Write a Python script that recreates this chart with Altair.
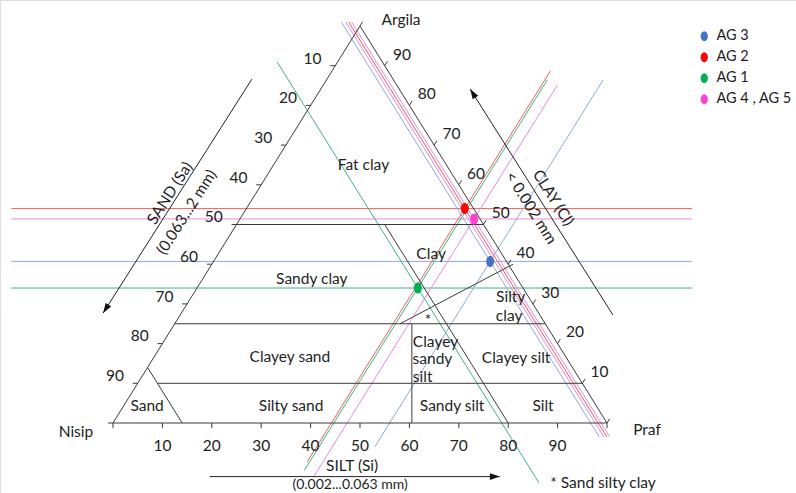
import altair as alt
import pandas as pd

# ---------------- data ----------------
# Soil samples: clay and silt content in percent (sand = 100 - clay - silt)
sample_names = ["AG 3", "AG 2", "AG 1", "AG 4 , AG 5"]
sample_colors = ["#4472c4", "#ff0000", "#00b050", "#ff40d0"]
sample_clay = [40.7, 54.0, 34.0, 51.4]
sample_silt = [56.0, 44.2, 44.7, 47.4]

BLUE, RED, GREEN, PINK = "#8eaadb", "#e4605a", "#3fb27e", "#e48ae4"

# Reading lines through the samples
guide_clay = [54.0, 51.4, 40.7, 34.0]            # constant clay (horizontal)
guide_clay_colors = [RED, PINK, BLUE, GREEN]
guide_clay_span = (-20.6, 117.2)                  # in diagram x units

guide_silt = [44.2, 44.7, 47.4, 56.0]             # constant silt
guide_silt_colors = [RED, GREEN, PINK, BLUE]
guide_silt_span = [(-9.8, 88.7), (-12.0, 86.4), (-13.4, 85.1), (-6.0, 86.4)]

guide_sand = [1.2, 1.8, 2.4, 3.3, 21.3]           # constant sand
guide_sand_colors = [PINK, RED, PINK, BLUE, GREEN]
guide_sand_span = [(-3.5, 101.0)] * 4 + [(-15.0, 91.0)]

# Class boundaries as (clay, silt) end points
boundaries = [
    ((0, 0), (0, 100)), ((0, 100), (100, 0)), ((100, 0), (0, 0)),   # frame
    ((50, 0), (50, 50)),
    ((25, 0), (25, 75)),
    ((10, 4), (10, 90)),
    ((14, 0), (0, 14)),
    ((50, 30), (0, 80)),
    ((25, 45.6), (40, 61)),
    ((25, 48), (0, 60.5)),
]

tick_values = [10, 20, 30, 40, 50, 60, 70, 80, 90]

# Class names: (text, clay, silt)
class_labels = [
    ("Fat clay", 65.0, 18.2), ("Clay", 42.6, 43.1), ("Sandy clay", 36.3, 22.1),
    ("*", 25.9, 50.8), ("Clayey sand", 16.6, 27.5), ("Clayey silt", 16.4, 73.4),
    ("Silty sand", 4.3, 33.9), ("Sand", 4.3, 4.75), ("Sandy silt", 4.3, 66.5),
    ("Silt", 4.3, 84.9),
]
class_labels_left = [
    ("Silty", 31.7, 61.7), ("clay", 27.0, 64.0),
    ("Clayey", 20.4, 50.5), ("sandy", 16.1, 52.6), ("silt", 11.6, 54.9),
]

# Captions outside the triangle: (text, x, y, angle, align, font size)
captions = [
    ("Argila", 58.3, 101.5, 0, "center", 15.5),
    ("Nisip", -7.5, -2.3, 0, "center", 15.5),
    ("Praf", 108.1, -1.8, 0, "center", 15.5),
    ("SAND (Sa)", 11.5, 57.9, 302.5, "center", 15.5),
    ("(0.063...2 mm)", 14.9, 53.1, 302.5, "center", 15.5),
    ("CLAY (Cl)", 89.1, 56.7, 57.7, "center", 15.5),
    ("< 0.002 mm", 84.6, 54.2, 57.7, "center", 15.5),
    ("SILT (Si)", 48.4, -10.9, 0, "center", 15.5),
    ("(0.002...0.063 mm)", 48.0, -15.7, 0, "center", 14),
    ("* Sand silty clay", 88.5, -15.1, 0, "left", 15.5),
]

# Axis arrows: start (x, y), tip (x, y), head angle
arrows = [
    ((28.1, 86.6), (-2.0, 27.7), 212.5),
    ((101.2, 27.2), (72.3, 84.1), 327.7),
    ((19.6, -13.5), (78.3, -13.5), 90.0),
]


# ---------------- geometry ----------------
def tern(clay, silt):
    """Ternary (clay, silt) -> diagram x, y."""
    return silt + clay / 2.0, clay


segs = []


def add(p, q, color):
    segs.append({"x": p[0], "y": p[1], "x2": q[0], "y2": q[1], "c": color})


for c, col in zip(guide_clay, guide_clay_colors):
    add((guide_clay_span[0], c), (guide_clay_span[1], c), col)
for t, col, (lo, hi) in zip(guide_silt, guide_silt_colors, guide_silt_span):
    add(tern(lo, t), tern(hi, t), col)
for s, col, (lo, hi) in zip(guide_sand, guide_sand_colors, guide_sand_span):
    add(tern(lo, 100 - s - lo), tern(hi, 100 - s - hi), col)

INK = "#3a3a3a"
for a, b in boundaries:
    add(tern(*a), tern(*b), INK)

for t in [0] + tick_values + [100]:
    x, y = tern(0, t)
    add((x, y), (x, y - 1.3), INK)
for s in tick_values + [100]:
    x, y = tern(100 - s, 0)
    add((x, y), (x - 1.0, y), INK)
for c in [0] + tick_values + [100]:
    x, y = tern(c, 100 - c)
    add((x, y), (x + 0.55, y + 1.1), INK)

for (p, q, _) in arrows:
    add(p, q, "#222222")

seg_df = pd.DataFrame(segs)

# tick labels
tick_rows = []
for t in tick_values:
    x, y = tern(0, t)
    tick_rows.append({"x": x, "y": y - 5.8, "t": str(t)})
for s in tick_values:
    x, y = tern(100 - s, 0)
    tick_rows.append({"x": x - 4.6, "y": y + 1.8, "t": str(s)})
for c in tick_values:
    x, y = tern(c, 100 - c)
    tick_rows.append({"x": x + 3.5, "y": y + 2.8, "t": str(c)})
tick_df = pd.DataFrame(tick_rows)

lab_df = pd.DataFrame(
    [{"x": tern(c, s)[0], "y": c, "t": t} for t, c, s in class_labels]
)
lab_left_df = pd.DataFrame(
    [{"x": tern(c, s)[0], "y": c, "t": t} for t, c, s in class_labels_left]
)
cap_df = pd.DataFrame(
    [{"x": x, "y": y, "t": t, "a": a, "al": al, "fs": fs}
     for t, x, y, a, al, fs in captions]
)
head_df = pd.DataFrame([{"x": q[0], "y": q[1], "a": ang} for p, q, ang in arrows])

pts_df = pd.DataFrame(
    {
        "sample": sample_names,
        "x": [tern(c, s)[0] for c, s in zip(sample_clay, sample_silt)],
        "y": sample_clay,
    }
)

# ---------------- chart ----------------
W, H = 796, 493
X = alt.X("x:Q", scale=alt.Scale(domain=[-22.874, 138.259], nice=False, zero=False), axis=None)
Y = alt.Y("y:Q", scale=alt.Scale(domain=[-17.632, 106.549], nice=False, zero=False), axis=None)
FONT = "Lato"
FS = 15.5

lines = alt.Chart(seg_df).mark_rule(strokeWidth=1).encode(
    x=X, y=Y, x2="x2:Q", y2="y2:Q", color=alt.Color("c:N", scale=None)
)

heads = alt.Chart(head_df).mark_point(
    shape="M0,0L-0.6,1.8L0.6,1.8Z", filled=True, color="#111111", size=121, opacity=1
).encode(x=X, y=Y, angle=alt.Angle("a:Q", scale=None))

ticks_txt = alt.Chart(tick_df).mark_text(
    font=FONT, fontSize=FS, color="#222222"
).encode(x=X, y=Y, text="t:N")

labels = alt.Chart(lab_df).mark_text(
    font=FONT, fontSize=FS, color="#1e1e1e"
).encode(x=X, y=Y, text="t:N")

labels_left = alt.Chart(lab_left_df).mark_text(
    font=FONT, fontSize=FS, color="#1e1e1e", align="left"
).encode(x=X, y=Y, text="t:N")

caps_c = alt.Chart(cap_df[cap_df.al == "center"]).mark_text(
    font=FONT, color="#1e1e1e"
).encode(
    x=X, y=Y, text="t:N",
    angle=alt.Angle("a:Q", scale=None),
    size=alt.Size("fs:Q", scale=None, legend=None),
)

caps_l = alt.Chart(cap_df[cap_df.al == "left"]).mark_text(
    font=FONT, fontSize=FS, color="#1e1e1e", align="left"
).encode(x=X, y=Y, text="t:N")

ELLIPSE = "M0,-1A0.72,1,0,1,1,0,1A0.72,1,0,1,1,0,-1Z"
points = alt.Chart(pts_df).mark_point(
    shape=ELLIPSE, filled=True, size=121, opacity=1
).encode(
    x=X,
    y=Y,
    color=alt.Color(
        "sample:N",
        scale=alt.Scale(domain=sample_names, range=sample_colors),
        legend=alt.Legend(
            title=None,
            orient="none",
            legendX=697,
            legendY=29,
            symbolType=ELLIPSE,
            symbolSize=100,
            symbolOpacity=1,
            labelFont=FONT,
            labelFontSize=14.5,
            labelColor="#1e1e1e",
            labelOffset=5,
            rowPadding=6,
            padding=0,
            labelLimit=100,
        ),
    ),
)

chart = (
    alt.layer(lines, heads, ticks_txt, labels, labels_left, caps_c, caps_l, points)
    .properties(width=W, height=H, autosize=alt.AutoSizeParams(type="none"), padding=0)
    .configure_view(stroke=None)
    .configure(background="white")
)

chart.save("out.html", embed_options={"renderer": "svg", "actions": False})
